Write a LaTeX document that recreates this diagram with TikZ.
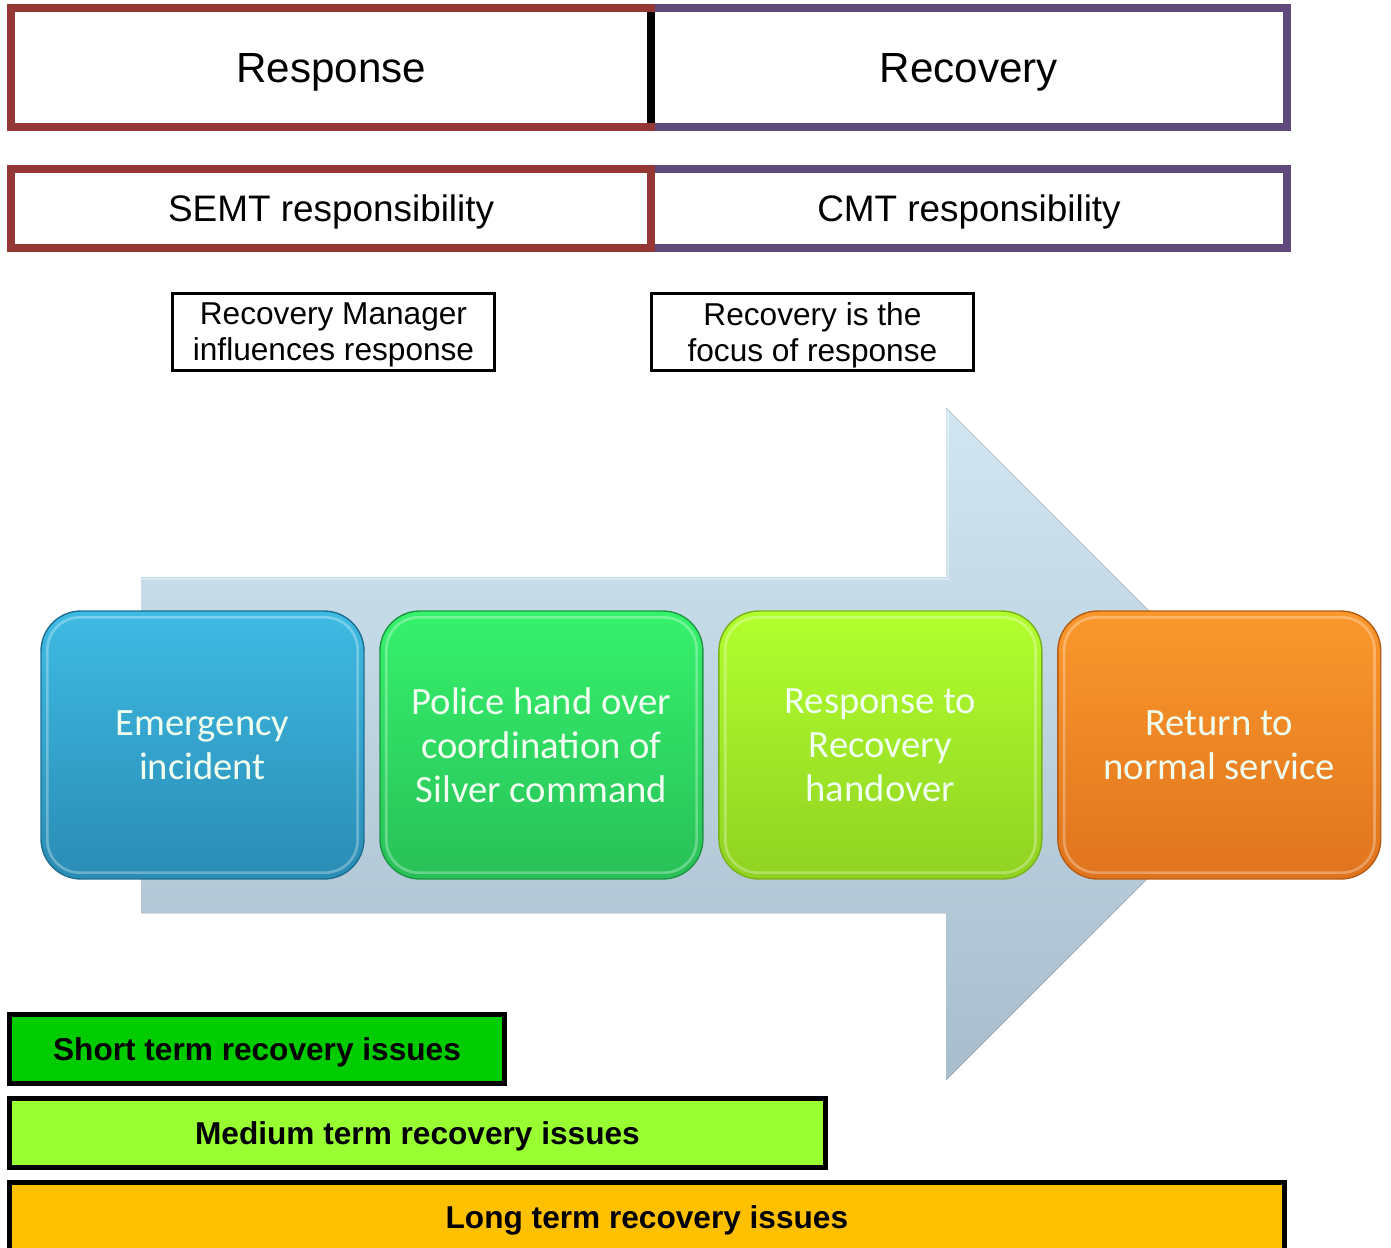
\documentclass[tikz,border=0pt]{standalone}
\usepackage{xcolor}
\usepackage{fontspec}
\setmainfont{Liberation Sans}
\newfontfamily\calib{Carlito}
\usepackage{tikz}
\usetikzlibrary{positioning}

\definecolor{semtred}{RGB}{149,55,53}
\definecolor{cmtpurple}{RGB}{96,74,123}
\definecolor{shortgreen}{RGB}{0,204,0}
\definecolor{mediumlime}{RGB}{153,255,51}
\definecolor{longamber}{RGB}{255,192,0}

\begin{document}
\begin{tikzpicture}[x=0.02cm, y=-0.02cm, node distance={6.78cm},
	phase/.style = {draw, line width=4.5pt, outer sep=0pt, fill=white, text depth=0pt, font=\fontsize{24}{28}\selectfont},
	resp/.style = {draw, line width=4.5pt, outer sep=0pt, fill=white, text depth=0pt, font=\fontsize{21}{25}\selectfont},
	note/.style = {draw, line width=1.7pt, outer sep=0pt, fill=white, align=center, minimum width=6.44cm, minimum height=1.54cm, inner sep=0pt, text depth=0pt, font=\fontsize{18}{20.5}\selectfont},
	stage/.style = {draw, line width=0.8pt, rounded corners=0.8cm, minimum width=6.46cm, minimum height=5.36cm, align=center, text=white!94!green, font=\calib\fontsize{22}{25}\selectfont},
	issue/.style = {draw, line width=2.8pt, outer sep=0pt, minimum height=1.38cm, text depth=0pt, font=\bfseries\fontsize{18}{21}\selectfont}]
	\clip (0,0) rectangle (1391,1247);
	% phases
	\node[phase, draw=cmtpurple, minimum width=12.72cm, minimum height=2.38cm] (recov) at (969,67.5) {Recovery};
	\node[phase, draw=semtred, minimum width=12.8cm, minimum height=2.38cm, left=0pt of recov] (response) {Response};
	\draw[line width=4.5pt] ([yshift=-2.3pt]response.north east) -- ([yshift=2.3pt]response.south east);
	% responsibilities
	\node[resp, draw=cmtpurple, minimum width=12.72cm, minimum height=1.58cm] (cmt) at (969,208.5) {CMT responsibility};
	\node[resp, draw=semtred, minimum width=12.8cm, minimum height=1.58cm, left=0pt of cmt] (semt) {SEMT responsibility};
	% notes
	\node[note] (mgr) at (333.5,332) {Recovery Manager\\influences response};
	\node[note, right=3.14cm of mgr] (focus) {Recovery is the\\focus of response};
	% big arrow
	\fill[top color={rgb,255:red,208;green,230;blue,241}, bottom color={rgb,255:red,168;green,190;blue,205}]
		(141,577) -- (946,577) -- (946,408) -- (1282,744) -- (946,1080) -- (946,913) -- (141,913) -- cycle;
	\draw[white, opacity=0.35, line width=1.5pt] (141,579) -- (948,579) -- (948,412);
	% stages
	\node[stage, draw={rgb,255:red,30;green,110;blue,145}, top color={rgb,255:red,62;green,187;blue,228}, bottom color={rgb,255:red,42;green,140;blue,180}] (1) at (202.5,745) {Emergency\\incident};
	\node[stage, draw={rgb,255:red,30;green,150;blue,68}, top color={rgb,255:red,54;green,242;blue,108}, bottom color={rgb,255:red,40;green,192;blue,88}, right of=1] (2) {Police hand over\\coordination of\\Silver command};
	\node[stage, draw={rgb,255:red,120;green,178;blue,26}, top color={rgb,255:red,178;green,255;blue,46}, bottom color={rgb,255:red,144;green,210;blue,34}, right of=2] (3) {Response to\\Recovery\\handover};
	\node[stage, draw={rgb,255:red,180;green,92;blue,22}, top color={rgb,255:red,250;green,152;blue,44}, bottom color={rgb,255:red,224;green,116;blue,30}, right of=3] (4) {Return to\\normal service};
	\foreach \n in {1,...,4}
		\draw[white, opacity=0.3, line width=1.5pt, rounded corners=0.65cm] ([shift={(4pt,-4pt)}]\n.north west) rectangle ([shift={(-4pt,4pt)}]\n.south east);
	% recovery issues
	\node[issue, fill=shortgreen, minimum width=9.9cm] (short) at (257,1049) {Short term recovery issues};
	\node[issue, fill=mediumlime, minimum width=16.32cm, below=0.3cm of short.south west, anchor=north west] (medium) {Medium term recovery issues};
	\node[issue, fill=longamber, minimum width=25.5cm, below=0.3cm of medium.south west, anchor=north west] (long) {Long term recovery issues};
\end{tikzpicture}
\end{document}
